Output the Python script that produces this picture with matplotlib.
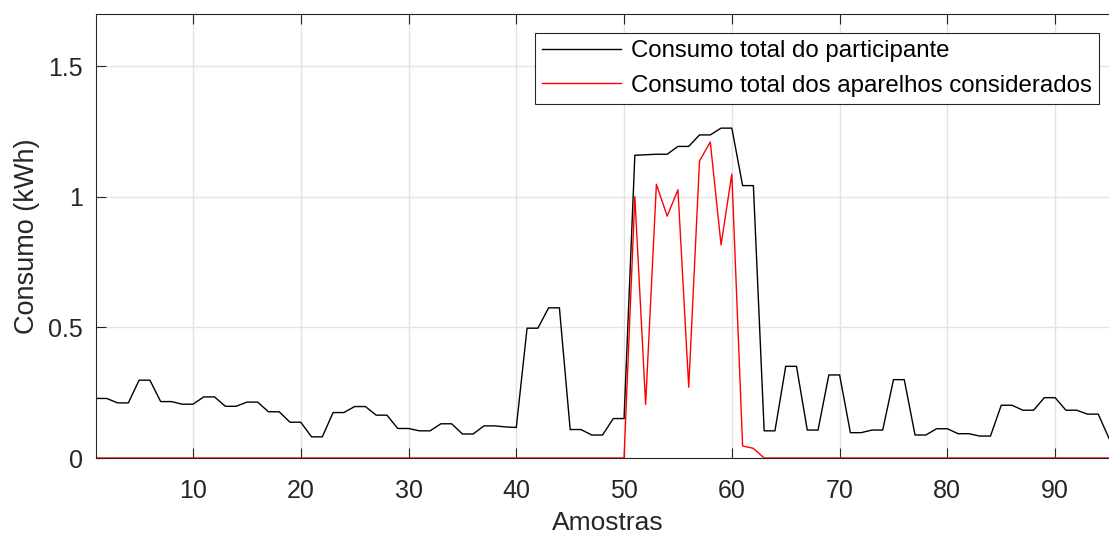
import numpy as np
import matplotlib
matplotlib.use("Agg")
import matplotlib.pyplot as plt

# Amostras (1..95)
amostras = np.arange(1, 96)

# Consumo total do participante (kWh)
consumo_total = [
    0.228, 0.228, 0.211, 0.211, 0.298, 0.298, 0.216, 0.216, 0.206, 0.206,
    0.234, 0.234, 0.198, 0.198, 0.214, 0.214, 0.177, 0.177, 0.137, 0.137,
    0.081, 0.081, 0.174, 0.174, 0.197, 0.197, 0.164, 0.164, 0.113, 0.113,
    0.104, 0.104, 0.131, 0.131, 0.092, 0.092, 0.123, 0.123, 0.119, 0.117,
    0.497, 0.497, 0.575, 0.575, 0.109, 0.109, 0.088, 0.088, 0.151, 0.151,
    1.159, 1.161, 1.163, 1.163, 1.193, 1.193, 1.237, 1.237, 1.263, 1.263,
    1.043, 1.043, 0.104, 0.104, 0.351, 0.351, 0.107, 0.107, 0.318, 0.318,
    0.097, 0.097, 0.107, 0.107, 0.300, 0.300, 0.088, 0.088, 0.112, 0.112,
    0.093, 0.093, 0.084, 0.084, 0.202, 0.202, 0.183, 0.183, 0.231, 0.231,
    0.183, 0.183, 0.168, 0.168, 0.075,
]

# Consumo total dos aparelhos considerados (kWh)
consumo_aparelhos = [0.0] * 50 + [
    1.001, 0.205, 1.048, 0.926, 1.027, 0.271, 1.137, 1.210, 0.816, 1.087,
    0.046, 0.037,
] + [0.0] * 33

yticks = [0, 0.5, 1, 1.5]
ytick_labels = ["0", "0.5", "1", "1.5"]
xticks = [10, 20, 30, 40, 50, 60, 70, 80, 90]

plt.rcParams["font.family"] = ["Liberation Sans", "DejaVu Sans"]

W, H = 1109, 536
fig = plt.figure(figsize=(W / 100, H / 100), dpi=100)
# the axes run a bit past the right edge of the picture (cropped figure)
ax = fig.add_axes([96 / W, 1 - 458 / H, (1119.8 - 96) / W, (458 - 14) / H])

ax.plot(amostras, consumo_total, color="black", lw=1.0,
        label="Consumo total do participante")
ax.plot(amostras, consumo_aparelhos, color="#ff0000", lw=1.0,
        label="Consumo total dos aparelhos considerados")

ax.set_xlim(1, 96)
ax.set_ylim(0, 1.7)
ax.set_xticks(xticks)
ax.set_yticks(yticks)
ax.set_yticklabels(ytick_labels)

dark = "#262626"
ax.tick_params(direction="in", length=7.5, width=0.8, colors=dark,
               labelsize=18, top=True, right=True)
ax.tick_params(axis="x", pad=15)
ax.tick_params(axis="y", pad=9.5)
for side in ["left", "bottom", "top", "right"]:
    ax.spines[side].set_color(dark)
    ax.spines[side].set_linewidth(0.8)

ax.grid(True, color="#e3e3e3", linewidth=1.0)
ax.set_axisbelow(True)

ax.set_xlabel("Amostras", fontsize=19, color=dark, labelpad=6)
ax.set_ylabel("Consumo (kWh)", fontsize=19.5, color=dark, labelpad=6)

leg = ax.legend(loc="upper right", bbox_to_anchor=(1099 / W, 1 - 33 / H),
                bbox_transform=fig.transFigure,
                borderaxespad=0, fontsize=17.3, frameon=True, fancybox=False,
                framealpha=1, edgecolor=dark, handlelength=3.3, handletextpad=0.4,
                labelspacing=0.52, borderpad=0.3)
leg.get_frame().set_linewidth(0.8)

fig.savefig("out.png", dpi=100)
